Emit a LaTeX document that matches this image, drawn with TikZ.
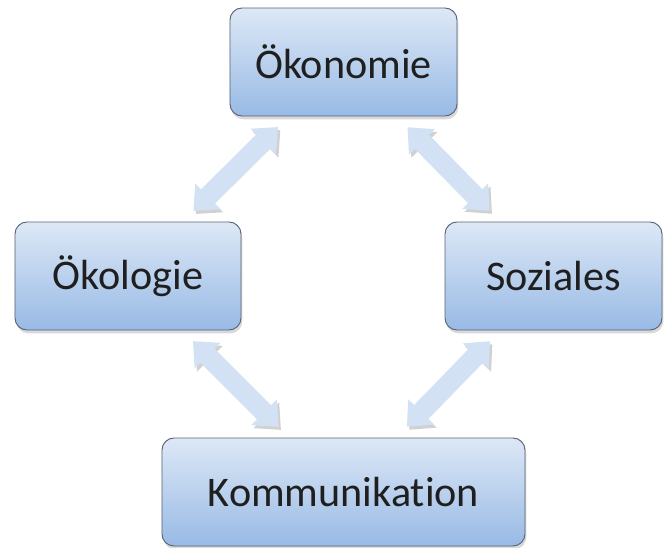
\documentclass[tikz,border=0pt]{standalone}
\usepackage{fontspec}
\setmainfont{Carlito}[Ligatures=NoCommon]
\usetikzlibrary{positioning,arrows.meta,shadows}

\definecolor{boxtop}{RGB}{221,232,246}
\definecolor{boxbot}{RGB}{152,186,229}
\definecolor{boxline}{RGB}{88,98,114}
\definecolor{arrowblue}{RGB}{210,225,243}

\tikzset{
    pillar/.style={rounded corners=0.36cm, draw=boxline, line width=0.8pt,
        top color=boxtop, bottom color=boxbot, text=black!88,
        minimum height=3.24cm, font=\fontsize{36}{43}\selectfont,
        drop shadow={shadow xshift=0.04cm, shadow yshift=-0.1cm, opacity=0.3}},
    link/.style={draw=arrowblue, line width=0.6cm, shorten <=0.45cm, shorten >=0.45cm,
        {Triangle[width=1.05cm, length=0.62cm]}-{Triangle[width=1.05cm, length=0.62cm]},
        preaction={draw=black!18, transform canvas={shift={(0.07cm,-0.09cm)}}}}
}

\begin{document}
\begin{tikzpicture}[node distance=1cm, on grid]
    \useasboundingbox (-10.305,1.86) rectangle (9.615,-14.55);
    \node[pillar, minimum width=6.81cm] (oekon) {Ökonomie};
    \node[pillar, minimum width=6.78cm, below left=6.42cm and 6.465cm of oekon] (oekol) {Ökologie};
    \node[pillar, minimum width=6.51cm, below right=6.42cm and 6.3cm of oekon] (sozial) {Soziales};
    \node[pillar, minimum width=10.89cm, below=12.9cm of oekon] (komm) {Kommunikation};
    \draw[link] (oekon) -- (oekol);
    \draw[link] (oekon) -- (sozial);
    \draw[link] (oekol) -- (komm);
    \draw[link] (sozial) -- (komm);
\end{tikzpicture}
\end{document}
